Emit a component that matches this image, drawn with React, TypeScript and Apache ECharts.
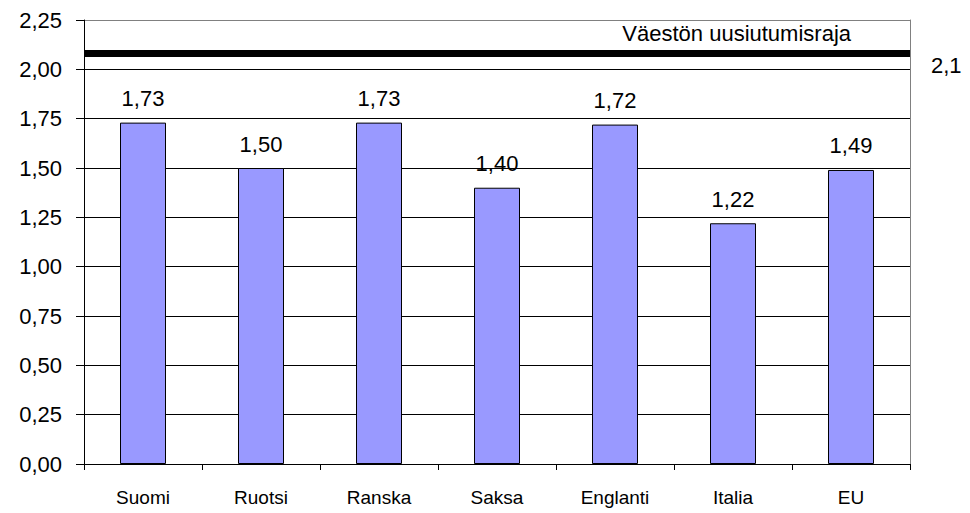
import React, { useEffect, useRef } from "react";
import * as echarts from "echarts";

const categories = ["Suomi", "Ruotsi", "Ranska", "Saksa", "Englanti", "Italia", "EU"];
const fertility = [1.73, 1.5, 1.73, 1.4, 1.72, 1.22, 1.49];
const replacementLevel = 2.08;
const replacementLabel = "2,1";
const replacementTitle = "Väestön uusiutumisraja";
const yMin = 0;
const yMax = 2.25;
const yStep = 0.25;

const FONT = "'Liberation Sans', Arial, sans-serif";
const fmt = (v: number) => v.toFixed(2).replace(".", ",");

export default function App() {
  const ref = useRef<HTMLDivElement>(null);
  useEffect(() => {
    if (!ref.current) return;
    const chart = echarts.init(ref.current, undefined, { renderer: "svg" });
    const splitColors = [] as string[];
    const nLines = Math.round((yMax - yMin) / yStep) + 1;
    for (let i = 0; i < nLines; i++) splitColors.push(i === nLines - 1 ? "#808080" : "#000000");
    chart.setOption({
      animation: false,
      backgroundColor: "#ffffff",
      textStyle: { fontFamily: FONT },
      grid: { left: 84, right: 60, top: 20, bottom: 49, containLabel: false },
      xAxis: {
        type: "category",
        data: categories,
        axisLine: { show: true, lineStyle: { color: "#000", width: 1 } },
        axisTick: { show: true, length: 6, lineStyle: { color: "#000" } },
        axisLabel: { color: "#000", fontSize: 19, fontFamily: FONT, margin: 24 },
      },
      yAxis: [
        {
          type: "value",
          min: yMin,
          max: yMax,
          interval: yStep,
          axisLine: { show: true, lineStyle: { color: "#000", width: 1 } },
          axisTick: { show: true, length: 8, lineStyle: { color: "#000" } },
          axisLabel: {
            color: "#000",
            fontSize: 22,
            fontFamily: FONT,
            margin: 22,
            formatter: (v: number) => fmt(v),
          },
          splitLine: { show: true, lineStyle: { color: splitColors, width: 1 } },
        },
        {
          type: "value",
          position: "right",
          min: yMin,
          max: yMax,
          interval: yStep,
          axisLine: { show: true, lineStyle: { color: "#808080", width: 1 } },
          axisTick: { show: false },
          axisLabel: { show: false },
          splitLine: { show: false },
        },
      ],
      series: [
        {
          type: "bar",
          data: fertility,
          barWidth: 46,
          itemStyle: { color: "#9999FF", borderColor: "#000", borderWidth: 1 },
          label: {
            show: true,
            position: "top",
            distance: 13,
            color: "#000",
            fontSize: 22,
            fontFamily: FONT,
            formatter: (p: any) => fmt(p.value),
          },
          markLine: {
            silent: true,
            symbol: "none",
            label: { show: false },
            lineStyle: { color: "#000", width: 7, type: "solid" },
            data: [{ yAxis: replacementLevel }],
          },
        },
      ],
      graphic: [
        {
          type: "text",
          right: 119,
          top: 22,
          style: { text: replacementTitle, fill: "#000", font: `22px ${FONT}` },
        },
        {
          type: "text",
          left: 931,
          top: 54,
          style: { text: replacementLabel, fill: "#000", font: `22px ${FONT}` },
        },
      ],
    });
    return () => chart.dispose();
  }, []);
  return (
    <div
      ref={ref}
      style={{ position: "absolute", left: 0, top: 0, width: 970, height: 513, background: "#fff" }}
    />
  );
}
